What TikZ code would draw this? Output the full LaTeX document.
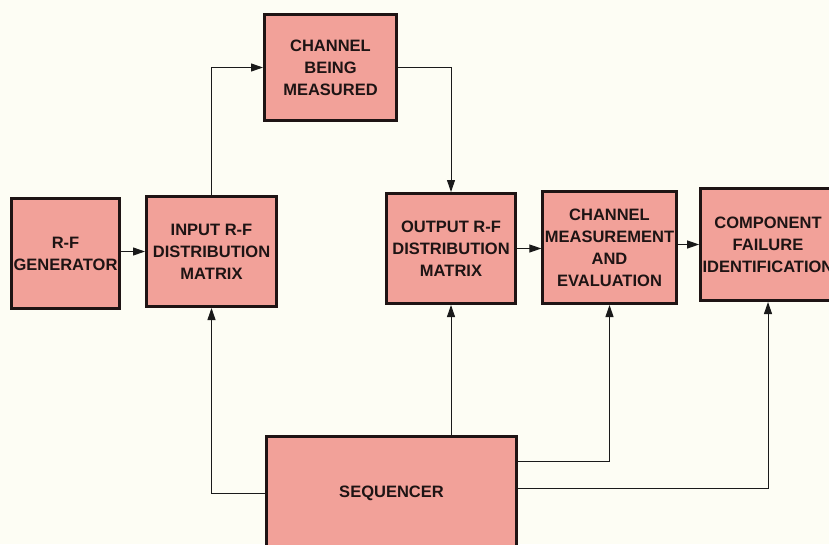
\documentclass[tikz,border=0pt]{standalone}
\usepackage{fontspec}
\setsansfont{Liberation Sans}
\usepackage{tikz}
\usetikzlibrary{positioning, arrows.meta}
\definecolor{paper}{HTML}{FDFDF4}
\definecolor{block}{HTML}{F2A199}
\definecolor{blockborder}{HTML}{1E1414}
\definecolor{wire}{HTML}{1A1A1A}

\begin{document}
\begin{tikzpicture}[
    x=1pt, y=-1pt,
    blk/.style={draw=blockborder, fill=block, line width=3pt, align=center,
                inner sep=2pt, font=\sffamily\bfseries\fontsize{16.5}{22}\selectfont,
                text=blockborder},
    wr/.style={-{Triangle[length=12pt, width=8pt]}, draw=wire, line width=1pt},
]

\useasboundingbox (0,0) rectangle (829,544);
\fill[paper] (0,0) rectangle (829,544);
\clip (0,0) rectangle (829,544);

\node[blk, minimum width=108pt, minimum height=110pt] (rfgen) at (65.5,253.5) {R-F\\GENERATOR};
\node[blk, minimum width=130pt, minimum height=110pt] (inmat) at (211.5,251.5) {INPUT R-F\\DISTRIBUTION\\MATRIX};
\node[blk, minimum width=132pt, minimum height=106pt] (chan) at (330.5,67.5) {CHANNEL\\BEING\\MEASURED};
\node[blk, minimum width=129pt, minimum height=110pt] (outmat) at (451,248.5) {OUTPUT R-F\\DISTRIBUTION\\MATRIX};
\node[blk, minimum width=132pt, minimum height=112pt] (meas) at (609.5,247.5) {CHANNEL\\MEASUREMENT\\AND\\EVALUATION};
\node[blk, minimum width=133pt, minimum height=112pt] (fail) at (768,244.5) {COMPONENT\\FAILURE\\IDENTIFICATION};
\node[blk, minimum width=250pt, minimum height=113pt] (seq) at (391.5,493) {SEQUENCER};

% signal path
\draw[wr] (rfgen.east |- inmat.west) -- (inmat.west);
\draw[wr] (inmat.north) |- (chan.west);
\draw[wr] (chan.east) -| (outmat.north);
\draw[wr] (outmat.east) -- (outmat.east -| meas.west);
\draw[wr] (meas.east |- fail.west) -- (fail.west);

% sequencer control lines
\draw[wr] (seq.west) -| (inmat.south);
\draw[wr] (seq.north -| outmat.south) -- (outmat.south);
\draw[wr] ([yshift=32pt]seq.east) -| (meas.south);
\draw[wr] ([yshift=5pt]seq.east) -| (fail.south);

\end{tikzpicture}
\end{document}
